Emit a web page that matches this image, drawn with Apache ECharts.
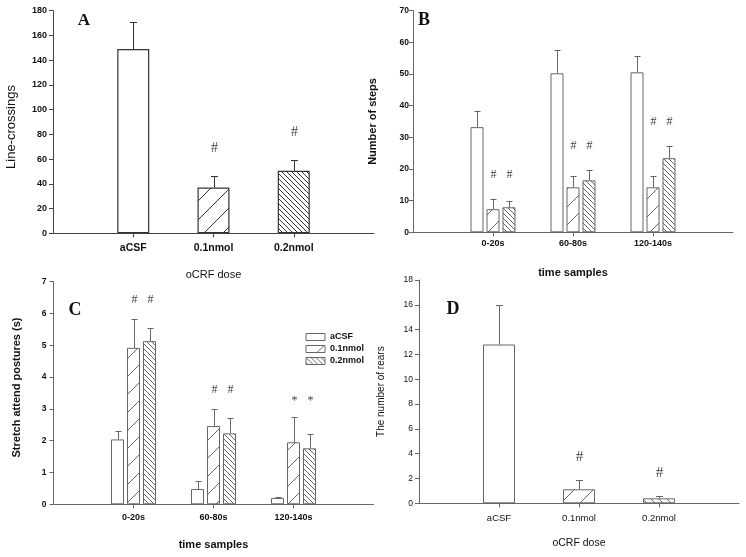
<!DOCTYPE html>
<html><head><meta charset="utf-8">
<script src="https://cdn.jsdelivr.net/npm/echarts@6/dist/echarts.min.js"></script>
<style>html,body{margin:0;padding:0;background:#fff}#c{width:746px;height:557px}</style>
</head><body><div id="c"></div>
<script>
// ---------------- data ----------------
const doseCats = ['aCSF', '0.1nmol', '0.2nmol'];
const timeCats = ['0-20s', '60-80s', '120-140s'];
const groupNames = ['aCSF', '0.1nmol', '0.2nmol'];

// A: line-crossings by dose
const lineCrossMean = [149, 37, 50.6];
const lineCrossSem = [22.1, 9.6, 8.9];
const lineCrossSig = ['', '#', '#'];

// B: number of steps by time sample
const stepsACSF = [33.2, 50.2, 50.5];
const stepsACSFSem = [5.0, 7.4, 5.2];
const steps01 = [7.3, 14.2, 14.2];
const steps01Sem = [3.3, 3.6, 3.6];
const steps02 = [7.9, 16.4, 23.4];
const steps02Sem = [2.1, 3.4, 3.8];
const stepsSig01 = ['#', '#', '#'];
const stepsSig02 = ['#', '#', '#'];

// C: stretch attend postures (s)
const sapACSF = [2.04, 0.48, 0.20];
const sapACSFSem = [0.27, 0.24, 0.04];
const sap01 = [4.92, 2.46, 1.95];
const sap01Sem = [0.92, 0.55, 0.80];
const sap02 = [5.13, 2.23, 1.76];
const sap02Sem = [0.42, 0.47, 0.46];
const sapSig01 = ['#', '#', '*'];
const sapSig02 = ['#', '#', '*'];

// D: number of rears by dose
const rearsMean = [12.8, 1.13, 0.40];
const rearsSem = [3.2, 0.75, 0.21];
const rearsSig = ['', '#', '#'];

const noSig = ['', '', ''];

// ---------------- styles ----------------
const FF = '"Liberation Sans", Arial, sans-serif';
const SERIF = '"Liberation Serif", "Times New Roman", serif';
const DARK = '#333';
const GRAY = '#666';

function hatch(period, dir, color, lw) {
  const c = document.createElement('canvas');
  c.width = period; c.height = period;
  const g = c.getContext('2d');
  g.strokeStyle = color; g.lineWidth = lw;
  g.beginPath();
  for (const k of [-1, 0, 1]) {
    if (dir === '/') { g.moveTo(k * period, period); g.lineTo(k * period + period, 0); }
    else { g.moveTo(k * period, 0); g.lineTo(k * period + period, period); }
  }
  g.stroke();
  return { image: c, repeat: 'repeat' };
}

const fillsA = ['#fff', hatch(19, '/', DARK, 1), hatch(5, '\\', DARK, 1)];
const fillsBC = ['#fff', hatch(18, '/', GRAY, 1), hatch(5, '\\', GRAY, 1)];
const fillsD = ['#fff', hatch(19, '/', GRAY, 1), hatch(8, '\\', GRAY, 1)];

function catAxis(gi, cats, o) {
  return {
    type: 'category', gridIndex: gi, data: ['', ...cats, ''], boundaryGap: false,
    axisLine: { show: true, lineStyle: { color: o.axisColor, width: 1 } },
    axisTick: { show: true, inside: false, length: 4, interval: (i, v) => v !== '', lineStyle: { color: o.axisColor } },
    axisLabel: { interval: 0, margin: o.labelMargin, color: '#111', fontFamily: FF, fontSize: o.labelSize, fontWeight: o.labelWeight },
    splitLine: { show: false },
    name: o.name, nameLocation: 'middle', nameGap: o.nameGap,
    nameTextStyle: { color: '#111', fontFamily: FF, fontSize: o.nameSize, fontWeight: o.nameWeight }
  };
}
function valAxis(gi, max, interval, o) {
  return {
    type: 'value', gridIndex: gi, min: 0, max: max, interval: interval,
    axisLine: { show: true, lineStyle: { color: o.axisColor, width: 1 } },
    axisTick: { show: true, inside: false, length: 4, lineStyle: { color: o.axisColor } },
    axisLabel: { margin: o.labelMargin, color: '#111', fontFamily: FF, fontSize: o.labelSize, fontWeight: o.labelWeight },
    splitLine: { show: false },
    name: o.name, nameLocation: 'middle', nameGap: o.nameGap, nameRotate: 90,
    nameTextStyle: { color: '#111', fontFamily: FF, fontSize: o.nameSize, fontWeight: o.nameWeight, padding: o.namePad || 0 }
  };
}

function barSeries(name, gi, values, fills, o) {
  return {
    type: 'bar', name: name, xAxisIndex: gi, yAxisIndex: gi,
    barWidth: o.barWidth, barGap: o.barGap || '30%',
    data: ['-', ...values.map((v, i) => ({ value: v, itemStyle: { color: Array.isArray(fills) ? fills[i] : fills } })), '-'],
    itemStyle: { color: Array.isArray(fills) ? '#fff' : fills, borderColor: o.stroke, borderWidth: o.lw || 1 },
    emphasis: { disabled: true }, silent: true, z: 2
  };
}

function errSeries(gi, means, sems, sigs, o) {
  return {
    type: 'custom', xAxisIndex: gi, yAxisIndex: gi, z: 3, silent: true,
    data: means.map((m, i) => [i + 1, m, m + sems[i]]),
    renderItem: function (params, api) {
      const i = params.dataIndex;
      const p0 = api.coord([i + 1, means[i]]);
      const x = Math.round(p0[0] + o.offset) + 0.5;
      const y0 = p0[1];
      const y1 = Math.round(api.coord([i + 1, means[i] + sems[i]])[1]) + 0.5;
      const children = [
        { type: 'line', shape: { x1: x, y1: y0, x2: x, y2: y1 }, style: { stroke: o.stroke, lineWidth: 1 } },
        { type: 'line', shape: { x1: x - o.cap / 2, y1: y1, x2: x + o.cap / 2, y2: y1 }, style: { stroke: o.stroke, lineWidth: 1 } }
      ];
      if (sigs[i]) {
        const ref = o.markRef ? o.markRef[i] : means[i] + sems[i];
        // '*' glyph sits high in its em box; nudge it down so its visual centre matches
        const ym = api.coord([i + 1, ref])[1] - o.gap + (sigs[i] === '*' ? 3 : 0);
        children.push({ type: 'text', x: x, y: ym, style: { text: sigs[i], align: 'center', verticalAlign: 'middle', font: o.markFont, fill: o.markColor } });
      }
      return { type: 'group', children: children };
    }
  };
}

// significance marks sit above the highest treated-group error bar of each time sample
function groupTop(list) {
  return [0, 1, 2].map(i => Math.max(...list.map(([m, s]) => m[i] + s[i])));
}
const stepsTop = groupTop([[steps01, steps01Sem], [steps02, steps02Sem]]);
const sapTop = groupTop([[sap01, sap01Sem], [sap02, sap02Sem]]);

const PITCH = 16; // bar pitch inside a group (13px bar + 3px gap)

const option = {
  animation: false,
  backgroundColor: '#fff',
  textStyle: { fontFamily: FF },
  grid: [
    { left: 53, top: 10.7, width: 321, height: 222.6, outerBoundsMode: 'none' },
    { left: 413, top: 10.6, width: 320, height: 221.7, outerBoundsMode: 'none' },
    { left: 53.5, top: 281.7, width: 320, height: 222.6, outerBoundsMode: 'none' },
    { left: 419, top: 280, width: 320, height: 223.3, outerBoundsMode: 'none' }
  ],
  xAxis: [
    catAxis(0, doseCats, { axisColor: '#444', labelMargin: 9, labelSize: 10.5, labelWeight: 'bold', name: 'oCRF dose', nameGap: 36.5, nameSize: 11, nameWeight: 'normal' }),
    catAxis(1, timeCats, { axisColor: GRAY, labelMargin: 7, labelSize: 9, labelWeight: 'bold', name: 'time samples', nameGap: 35.5, nameSize: 11, nameWeight: 'bold' }),
    catAxis(2, timeCats, { axisColor: GRAY, labelMargin: 9, labelSize: 9, labelWeight: 'bold', name: 'time samples', nameGap: 35.5, nameSize: 11, nameWeight: 'bold' }),
    catAxis(3, doseCats, { axisColor: GRAY, labelMargin: 10, labelSize: 9.5, labelWeight: 'normal', name: 'oCRF dose', nameGap: 34.5, nameSize: 10.5, nameWeight: 'normal' })
  ],
  yAxis: [
    valAxis(0, 180, 20, { axisColor: '#444', labelMargin: 6, labelSize: 9, labelWeight: 'bold', name: 'Line-crossings', nameGap: 35, nameSize: 13, nameWeight: 'normal', namePad: [0, 10, 0, 0] }),
    valAxis(1, 70, 10, { axisColor: GRAY, labelMargin: 4, labelSize: 8.5, labelWeight: 'bold', name: 'Number of steps', nameGap: 35, nameSize: 11, nameWeight: 'bold' }),
    valAxis(2, 7, 1, { axisColor: GRAY, labelMargin: 7, labelSize: 8.5, labelWeight: 'bold', name: 'Stretch attend postures (s)', nameGap: 31, nameSize: 11, nameWeight: 'bold', namePad: [0, 0, 0, 11] }),
    valAxis(3, 18, 2, { axisColor: GRAY, labelMargin: 6, labelSize: 8.5, labelWeight: 'normal', name: 'The number of rears', nameGap: 33, nameSize: 10, nameWeight: 'normal' })
  ],
  legend: {
    data: groupNames, orient: 'vertical', left: 305.5, top: 332.5, padding: 0, icon: 'rect',
    itemWidth: 19, itemHeight: 7, itemGap: 3, selectedMode: false,
    itemStyle: { borderColor: GRAY, borderWidth: 1 },
    textStyle: { fontFamily: FF, fontSize: 9, fontWeight: 'bold', color: '#111' }
  },
  graphic: [
    { type: 'text', x: 84, y: 21, style: { text: 'A', align: 'center', verticalAlign: 'middle', font: 'bold 17px ' + SERIF, fill: '#111' } },
    { type: 'text', x: 424, y: 20.5, style: { text: 'B', align: 'center', verticalAlign: 'middle', font: 'bold 18px ' + SERIF, fill: '#111' } },
    { type: 'text', x: 75, y: 310.5, style: { text: 'C', align: 'center', verticalAlign: 'middle', font: 'bold 18px ' + SERIF, fill: '#111' } },
    { type: 'text', x: 453, y: 309.5, style: { text: 'D', align: 'center', verticalAlign: 'middle', font: 'bold 18px ' + SERIF, fill: '#111' } }
  ],
  series: [
    // A
    barSeries('A', 0, lineCrossMean, fillsA, { barWidth: 32, stroke: DARK, lw: 1.2 }),
    errSeries(0, lineCrossMean, lineCrossSem, lineCrossSig, { offset: 0, cap: 7, stroke: DARK, gap: 27, markFont: '14px ' + SERIF, markColor: '#444' }),
    // B
    barSeries(groupNames[0], 1, stepsACSF, fillsBC[0], { barWidth: 13, barGap: '23%', stroke: GRAY }),
    barSeries(groupNames[1], 1, steps01, fillsBC[1], { barWidth: 13, barGap: '23%', stroke: GRAY }),
    barSeries(groupNames[2], 1, steps02, fillsBC[2], { barWidth: 13, barGap: '23%', stroke: GRAY }),
    errSeries(1, stepsACSF, stepsACSFSem, noSig, { offset: -PITCH, cap: 6, stroke: GRAY, gap: 24 }),
    errSeries(1, steps01, steps01Sem, stepsSig01, { offset: 0, cap: 6, stroke: GRAY, gap: 24, markRef: stepsTop, markFont: '12px ' + SERIF, markColor: '#444' }),
    errSeries(1, steps02, steps02Sem, stepsSig02, { offset: PITCH, cap: 6, stroke: GRAY, gap: 24, markRef: stepsTop, markFont: '12px ' + SERIF, markColor: '#444' }),
    // C
    barSeries(groupNames[0], 2, sapACSF, fillsBC[0], { barWidth: 13, barGap: '23%', stroke: GRAY }),
    barSeries(groupNames[1], 2, sap01, fillsBC[1], { barWidth: 13, barGap: '23%', stroke: GRAY }),
    barSeries(groupNames[2], 2, sap02, fillsBC[2], { barWidth: 13, barGap: '23%', stroke: GRAY }),
    errSeries(2, sapACSF, sapACSFSem, noSig, { offset: -PITCH, cap: 6, stroke: GRAY, gap: 19 }),
    errSeries(2, sap01, sap01Sem, sapSig01, { offset: 0, cap: 6, stroke: GRAY, gap: 19, markRef: sapTop, markFont: '12px ' + SERIF, markColor: '#444' }),
    errSeries(2, sap02, sap02Sem, sapSig02, { offset: PITCH, cap: 6, stroke: GRAY, gap: 19, markRef: sapTop, markFont: '12px ' + SERIF, markColor: '#444' }),
    // D
    barSeries('D', 3, rearsMean, fillsD, { barWidth: 32, stroke: GRAY }),
    errSeries(3, rearsMean, rearsSem, rearsSig, { offset: 0, cap: 7, stroke: GRAY, gap: 23, markFont: '15px ' + SERIF, markColor: '#444' })
  ]
};

const chart = echarts.init(document.getElementById('c'), null, { renderer: 'canvas' });
chart.setOption(option);
</script>
</body></html>
